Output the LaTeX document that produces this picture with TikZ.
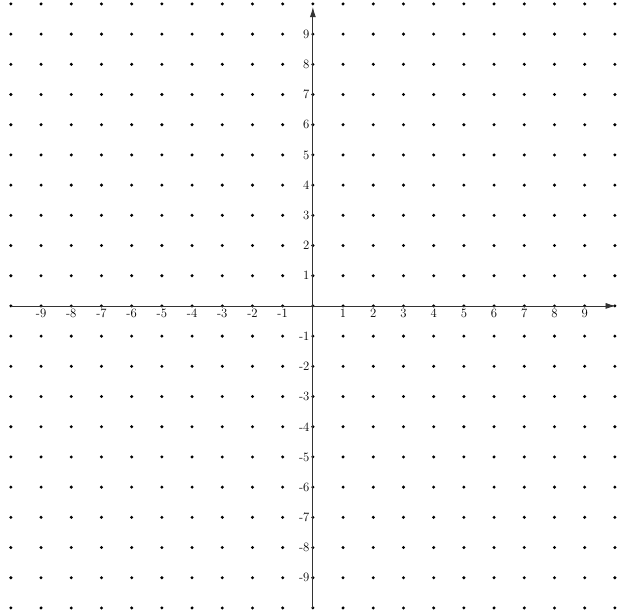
\documentclass[tikz,border=0pt]{standalone}
\usepackage{tikz}
\usetikzlibrary{arrows.meta}
\begin{document}
\begin{tikzpicture}[x=1cm, y=1cm, >={Latex[length=3.4mm, width=2mm]}, font=\large]

% Define styles
\tikzstyle{dot} = [circle, fill=black, inner sep=0pt, minimum size=1.1mm]
\tikzstyle{axis} = [draw=black!80, line width=0.8pt]
\tikzstyle{xlabel} = [below, inner sep=3pt]
\tikzstyle{ylabel} = [left, inner sep=3pt]

\useasboundingbox (-10.36,-10.13) rectangle (10.07,10.13);

% Grid of dots
\foreach \i in {-10,...,10}
  \foreach \j in {-10,...,10}
    \node [dot] (d\i_\j) at (\i,\j) {};

% Axes
\coordinate (xmin) at (-10,0);
\coordinate (xmax) at (10.03,0);
\coordinate (ymin) at (0,-10);
\coordinate (ymax) at (0,9.9);
\draw [axis, ->] (xmin) -- (xmax);
\draw [axis, ->] (ymin) -- (ymax);

% Axis labels
\foreach \x in {-9,...,-1,1,2,...,9}
  \node [xlabel] (xl\x) at (\x,0) {\x};
\foreach \y in {-9,...,-1,1,2,...,9}
  \node [ylabel] (yl\y) at (0,\y) {\y};

\end{tikzpicture}
\end{document}
